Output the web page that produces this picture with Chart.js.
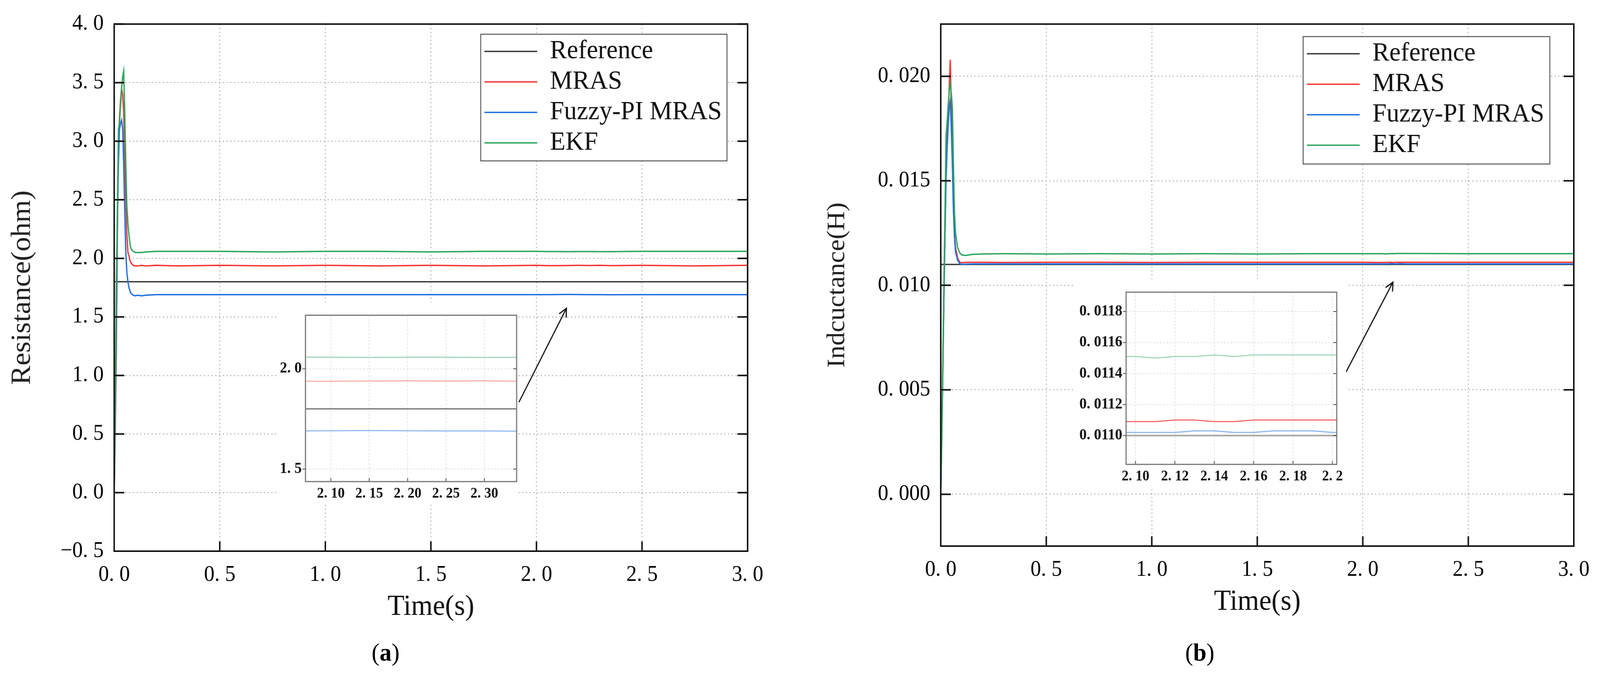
<!DOCTYPE html>
<html>
<head>
<meta charset="utf-8">
<script src="https://cdn.jsdelivr.net/npm/chart.js@4.4.1/dist/chart.umd.min.js"></script>
<style>
  html, body { margin: 0; padding: 0; background: #fff; overflow: hidden; }
  #page { position: relative; width: 4274px; height: 1737px; overflow: hidden; background: #fff; transform-origin: 0 0; }
  .box { position: absolute; }
  .panel { position: absolute; top: 1637px; width: 200px; margin-left: -100px; text-align: center;
           font-family: 'Liberation Serif', serif; font-size: 64px; line-height: 1; color: #000; }
</style>
</head>
<body>
<div id="page">
  <div class="box" style="left:0;top:0;width:2137px;height:1737px"><canvas id="resistance-chart"></canvas></div>
  <div class="box" style="left:2137px;top:0;width:2137px;height:1737px"><canvas id="inductance-chart"></canvas></div>
  <div class="box" style="left:743px;top:773px;width:640px;height:514px"><canvas id="resistance-zoom"></canvas></div>
  <div class="box" style="left:2873px;top:714px;width:723px;height:538px"><canvas id="inductance-zoom"></canvas></div>
  <div class="panel" style="left:1030px">(<b>a</b>)</div>
  <div class="panel" style="left:3205px">(<b>b</b>)</div>
</div>
<script>
// ---- (a) resistance estimation ----
const timeR = [0, 0.005, 0.01, 0.015, 0.02, 0.025, 0.03, 0.035, 0.04, 0.045,
               0.05, 0.055, 0.06, 0.065, 0.07, 0.075, 0.08, 0.09, 0.1, 0.11,
               0.13, 0.15, 0.2, 0.3, 0.5, 0.75, 1.0, 1.25, 1.5, 1.75,
               2.0, 2.05, 2.1, 2.15, 2.2, 2.25, 2.3, 2.35, 2.5, 2.75, 3.0];
const mrasR = [0, 0.5, 1.2, 2.2, 2.95, 3.2, 3.35, 3.45, 3.4, 3.25,
               2.85, 2.5, 2.2, 2.05, 2.02, 1.98, 1.96, 1.94, 1.935, 1.935,
               1.94, 1.935, 1.94, 1.935, 1.94, 1.935, 1.94, 1.935, 1.94, 1.935,
               1.94, 1.938, 1.938, 1.939, 1.94, 1.939, 1.94, 1.938, 1.94, 1.935, 1.94];
const fuzzyR = [0, 0.6, 1.4, 2.3, 2.8, 3.1, 3.15, 3.18, 3.1, 2.8,
                2.4, 2.05, 1.88, 1.8, 1.75, 1.72, 1.7, 1.685, 1.68, 1.685,
                1.68, 1.685, 1.69, 1.69, 1.69, 1.69, 1.69, 1.69, 1.69, 1.69,
                1.69, 1.69, 1.691, 1.692, 1.691, 1.69, 1.69, 1.689, 1.69, 1.69, 1.69];
const ekfR = [0, 0.8, 1.75, 2.4, 3.1, 3.15, 3.3, 3.45, 3.55, 3.6,
              3.25, 2.8, 2.45, 2.3, 2.2, 2.12, 2.08, 2.06, 2.05, 2.05,
              2.05, 2.055, 2.06, 2.06, 2.06, 2.055, 2.06, 2.06, 2.055, 2.06,
              2.06, 2.058, 2.058, 2.057, 2.058, 2.058, 2.057, 2.057, 2.06, 2.06, 2.06];
const refTimeR = [0, 3.0];
const refR = [1.8, 1.8];

// ---- (b) inductance estimation ----
const timeL = [0, 0.005, 0.01, 0.015, 0.02, 0.025, 0.03, 0.035, 0.04, 0.045,
               0.05, 0.055, 0.06, 0.065, 0.07, 0.08, 0.09, 0.1, 0.12, 0.15,
               0.2, 0.3, 0.5, 0.75, 1.0, 1.25, 1.5, 1.75, 2.0, 2.08,
               2.1, 2.11, 2.12, 2.13, 2.14, 2.15, 2.16, 2.17, 2.18, 2.19,
               2.2, 2.22, 2.5, 2.75, 3.0];
const mrasL = [0, 0.003, 0.0065, 0.0095, 0.0125, 0.0155, 0.017, 0.018, 0.0195, 0.0208,
               0.0185, 0.016, 0.0138, 0.0125, 0.0118, 0.0113, 0.0111, 0.01108, 0.0111, 0.0111,
               0.0111, 0.01109, 0.0111, 0.0111, 0.01109, 0.0111, 0.0111, 0.0111, 0.0111, 0.01109,
               0.01109, 0.01109, 0.0111, 0.0111, 0.01109, 0.01109, 0.0111, 0.0111, 0.0111, 0.0111,
               0.0111, 0.0111, 0.0111, 0.0111, 0.0111];
const fuzzyL = [0, 0.003, 0.006, 0.0095, 0.0125, 0.015, 0.0165, 0.0176, 0.0185, 0.0188,
                0.0175, 0.0158, 0.0136, 0.0123, 0.0116, 0.0112, 0.01103, 0.011, 0.01101, 0.01102,
                0.01102, 0.01102, 0.01102, 0.01102, 0.01102, 0.01102, 0.01102, 0.01102, 0.01102, 0.01102,
                0.01102, 0.01102, 0.01102, 0.01103, 0.01103, 0.01102, 0.01102, 0.01103, 0.01103, 0.01103,
                0.01102, 0.01102, 0.01102, 0.01102, 0.01102];
const ekfL = [0, 0.0025, 0.006, 0.01, 0.0135, 0.0172, 0.0178, 0.0186, 0.0193, 0.0197,
              0.0192, 0.0185, 0.0158, 0.0135, 0.0125, 0.0118, 0.01155, 0.01145, 0.01143, 0.01148,
              0.0115, 0.01151, 0.0115, 0.01151, 0.0115, 0.01151, 0.0115, 0.01151, 0.01151, 0.01151,
              0.01151, 0.0115, 0.01151, 0.01151, 0.01152, 0.01151, 0.01152, 0.01152, 0.01152, 0.01152,
              0.01152, 0.01152, 0.01151, 0.01151, 0.01151];
const refTimeL = [0, 3.0];
const refL = [0.011, 0.011];

// arrows pointing from the zoom boxes: [time, value]
const arrowFromR = [1.917, 0.772], arrowToR = [2.142, 1.574];
const arrowFromL = [1.920, 0.00584], arrowToL = [2.143, 0.01015];

// fit the 4274x1737 layout into whatever viewport we get
const page = document.getElementById('page');
page.style.transform = 'scale(' + (window.innerWidth / 4274) + ',' + (window.innerHeight / 1737) + ')';

Chart.defaults.font.family = "'Liberation Serif', 'DejaVu Serif', serif";
Chart.defaults.color = '#000';

const mainStyle = {
  ref: ['#3a3a3a', 3.5], mras: ['#f23333', 3.5], fuzzy: ['#1f6fe0', 3.5], ekf: ['#2aa65b', 3.5]
};
const zoomStyleR = {
  ref: ['#555555', 2.5], mras: ['rgba(242,51,51,0.45)', 2.5], fuzzy: ['rgba(31,111,224,0.55)', 2.5], ekf: ['rgba(42,166,91,0.5)', 2.5]
};
const zoomStyleL = {
  ref: ['#a6a6a6', 4], mras: ['rgba(242,51,51,0.85)', 2.5], fuzzy: ['rgba(31,111,224,0.5)', 3], ekf: ['rgba(42,166,91,0.5)', 2.5]
};

function toPoints(times, values) {
  const pts = [];
  for (let i = 0; i < times.length; i++) {
    pts.push({x: times[i], y: values[i]});
  }
  return pts;
}

function buildDatasets(refTime, ref, time, mras, fuzzy, ekf, style) {
  const sets = [
    {label: 'Reference', data: toPoints(refTime, ref), s: style.ref, order: 3},
    {label: 'MRAS', data: toPoints(time, mras), s: style.mras, order: 2},
    {label: 'Fuzzy-PI MRAS', data: toPoints(time, fuzzy), s: style.fuzzy, order: 1},
    {label: 'EKF', data: toPoints(time, ekf), s: style.ekf, order: 0}
  ];
  return sets.map(d => ({
    label: d.label, data: d.data, order: d.order,
    borderColor: d.s[0], backgroundColor: d.s[0], borderWidth: d.s[1],
    pointBorderColor: d.s[0], pointBorderWidth: d.s[1],
    pointRadius: 0, fill: false, tension: 0
  }));
}

// "0.5" -> "0. 5" like the original typesetting
function fmt(v, digits) {
  return (v < 0 ? '\u2212' : '') + Math.abs(v).toFixed(digits).replace('.', '. ');
}

// frame, inward ticks, zoom arrow and boxed legend
const plotDecor = {
  id: 'plotDecor',
  beforeDraw(chart, args, opts) {
    if (!opts.background) return;
    const ctx = chart.ctx;
    ctx.save();
    ctx.fillStyle = opts.background;
    ctx.fillRect(0, 0, chart.width, chart.height);
    ctx.restore();
  },
  afterLayout(chart, args, opts) {
    const box = opts.legendBox, legend = chart.legend;
    if (!box || !legend) return;
    const area = chart.chartArea;
    legend.left = area.right - box.right - box.width;
    legend.top = area.top + box.top;
    legend.width = box.width;
    legend.height = box.height;
    legend.right = legend.left + box.width;
    legend.bottom = legend.top + box.height;
  },
  afterDatasetsDraw(chart, args, opts) {
    const ctx = chart.ctx, area = chart.chartArea;
    const xs = chart.scales.x, ys = chart.scales.y;
    const t = opts.ticks;
    ctx.save();
    ctx.strokeStyle = opts.tickColor;
    ctx.lineWidth = opts.tickWidth;
    ctx.beginPath();
    ys.ticks.forEach(tick => {
      const y = ys.getPixelForValue(tick.value);
      ctx.moveTo(area.left, y); ctx.lineTo(area.left + t.left, y);
      ctx.moveTo(area.right, y); ctx.lineTo(area.right - t.right, y);
    });
    xs.ticks.forEach(tick => {
      const x = xs.getPixelForValue(tick.value);
      ctx.moveTo(x, area.bottom); ctx.lineTo(x, area.bottom - t.bottom);
    });
    ctx.stroke();
    ctx.strokeStyle = opts.frameColor;
    ctx.lineWidth = opts.frameWidth;
    ctx.strokeRect(area.left, area.top, area.right - area.left, area.bottom - area.top);

    if (opts.arrow) {
      const x1 = xs.getPixelForValue(opts.arrow.from[0]), y1 = ys.getPixelForValue(opts.arrow.from[1]);
      const x2 = xs.getPixelForValue(opts.arrow.to[0]), y2 = ys.getPixelForValue(opts.arrow.to[1]);
      const ang = Math.atan2(y2 - y1, x2 - x1);
      ctx.strokeStyle = '#111';
      ctx.lineWidth = 3;
      ctx.beginPath();
      ctx.moveTo(x1, y1); ctx.lineTo(x2, y2);
      ctx.moveTo(x2 - 24 * Math.cos(ang - 0.45), y2 - 24 * Math.sin(ang - 0.45));
      ctx.lineTo(x2, y2);
      ctx.lineTo(x2 - 24 * Math.cos(ang + 0.45), y2 - 24 * Math.sin(ang + 0.45));
      ctx.stroke();
    }

    if (opts.legendBox && chart.legend) {
      const lg = chart.legend;
      ctx.fillStyle = '#fff';
      ctx.fillRect(lg.left, lg.top, lg.width, lg.height);
      ctx.strokeStyle = '#555';
      ctx.lineWidth = 2.5;
      ctx.strokeRect(lg.left, lg.top, lg.width, lg.height);
      ctx.restore();
      ctx.save();
      lg.draw();
    }
    ctx.restore();
  }
};

function mainChart(id, cfg) {
  const ctx = document.getElementById(id).getContext('2d');
  const gridOpts = {color: '#999999', lineWidth: 2, drawTicks: false};
  const borderOpts = {display: false, dash: [3, 7]};
  return new Chart(ctx, {
    type: 'line',
    data: {datasets: cfg.datasets},
    plugins: [plotDecor],
    options: {
      responsive: true,
      maintainAspectRatio: false,
      devicePixelRatio: 1,
      animation: false,
      layout: {padding: cfg.padding},
      plugins: {
        legend: {
          position: 'chartArea',
          align: 'start',
          labels: {
            usePointStyle: true,
            pointStyle: 'line',
            pointStyleWidth: 141,
            padding: 10,
            color: '#111',
            font: {size: 68},
            sort: (a, b) => a.datasetIndex - b.datasetIndex
          }
        },
        tooltip: {enabled: false},
        plotDecor: {
          frameColor: '#111', frameWidth: 4, tickColor: '#111', tickWidth: 4,
          ticks: {left: 27, right: 27, bottom: 25},
          legendBox: cfg.legendBox,
          arrow: cfg.arrow
        }
      },
      scales: {
        x: {
          type: 'linear', min: 0, max: 3,
          afterFit: s => { s.height = cfg.xHeight; },
          ticks: {stepSize: 0.5, includeBounds: false, padding: 28, maxRotation: 0, autoSkip: false,
                  font: {size: 56}, color: '#000', callback: v => fmt(v, 1)},
          grid: gridOpts,
          border: borderOpts,
          title: {display: true, text: 'Time(s)', color: '#111', font: {size: 74},
                  padding: {top: 0, bottom: cfg.xTitlePad}}
        },
        y: {
          type: 'linear', min: cfg.yMin, max: cfg.yMax,
          afterFit: s => { s.width = cfg.yWidth; },
          ticks: {stepSize: cfg.yStep, includeBounds: false, padding: 28, autoSkip: false,
                  font: {size: 56}, color: '#000', callback: v => fmt(v, cfg.yDigits)},
          grid: gridOpts,
          border: borderOpts,
          title: {display: true, text: cfg.yTitle, color: '#222', font: {size: cfg.yTitleSize},
                  padding: {top: cfg.yTitlePad, bottom: 0}}
        }
      }
    }
  });
}

function zoomChart(id, cfg) {
  const ctx = document.getElementById(id).getContext('2d');
  const gridOpts = {color: '#d8d8d8', lineWidth: 1.5, drawTicks: false};
  const borderOpts = {display: false, dash: [5, 4]};
  return new Chart(ctx, {
    type: 'line',
    data: {datasets: cfg.datasets},
    plugins: [plotDecor],
    options: {
      responsive: true,
      maintainAspectRatio: false,
      devicePixelRatio: 1,
      animation: false,
      layout: {padding: cfg.padding},
      plugins: {
        legend: {display: false},
        tooltip: {enabled: false},
        plotDecor: {
          background: '#fff', frameColor: '#777', frameWidth: 3, tickColor: '#444', tickWidth: 2,
          ticks: {left: -8, right: 9, bottom: 9}
        }
      },
      scales: {
        x: {
          type: 'linear', min: cfg.xMin, max: cfg.xMax,
          afterFit: s => { s.height = cfg.xHeight; },
          ticks: {stepSize: cfg.xStep, includeBounds: false, padding: 9, maxRotation: 0, autoSkip: false,
                  font: {size: 37, weight: 'bold'}, color: '#111', callback: cfg.xLabel},
          grid: gridOpts,
          border: borderOpts
        },
        y: {
          type: 'linear', min: cfg.yMin, max: cfg.yMax,
          afterFit: s => { s.width = cfg.yWidth; },
          ticks: {stepSize: cfg.yStep, includeBounds: false, padding: 10, autoSkip: false,
                  font: {size: 39, weight: 'bold'}, color: '#111', callback: v => fmt(v, cfg.yDigits)},
          grid: gridOpts,
          border: borderOpts
        }
      }
    }
  });
}

mainChart('resistance-chart', {
  datasets: buildDatasets(refTimeR, refR, timeR, mrasR, fuzzyR, ekfR, mainStyle),
  padding: {top: 46, right: 140, left: 0, bottom: 0},
  xHeight: 327, xTitlePad: 139,
  yWidth: 305, yMin: -0.5, yMax: 4.0, yStep: 0.5, yDigits: 1,
  yTitle: 'Resistance(ohm)', yTitleSize: 74, yTitlePad: 16,
  legendBox: {right: 55, top: 26, width: 658, height: 324},
  arrow: {from: arrowFromR, to: arrowToR}
});

mainChart('inductance-chart', {
  datasets: buildDatasets(refTimeL, refL, timeL, mrasL, fuzzyL, ekfL, mainStyle),
  padding: {top: 32, right: 66, left: 0, bottom: 0},
  xHeight: 340, xTitlePad: 152,
  yWidth: 376, yMin: -0.00248, yMax: 0.0225, yStep: 0.005, yDigits: 3,
  yTitle: 'Indcuctance(H)', yTitleSize: 68, yTitlePad: 59,
  legendBox: {right: 64, top: 32, width: 659, height: 326},
  arrow: {from: arrowFromL, to: arrowToL}
});

zoomChart('resistance-zoom', {
  datasets: buildDatasets(refTimeR, refR, timeR, mrasR, fuzzyR, ekfR, zoomStyleR),
  padding: {top: 2, right: 3, left: 0, bottom: 0},
  xHeight: 55, xMin: 2.067, xMax: 2.342, xStep: 0.05,
  xLabel: v => fmt(v, 2),
  yWidth: 73, yMin: 1.4375, yMax: 2.267, yStep: 0.5, yDigits: 1
});

zoomChart('inductance-zoom', {
  datasets: buildDatasets(refTimeL, refL, timeL, mrasL, fuzzyL, ekfL, zoomStyleL),
  padding: {top: 2, right: 4, left: 0, bottom: 0},
  xHeight: 64, xMin: 2.0952, xMax: 2.2022, xStep: 0.02,
  xLabel: v => (Math.abs(v - 2.2) < 1e-9 ? fmt(2.2, 1) : fmt(v, 2)),
  yWidth: 135, yMin: 0.010814, yMax: 0.011925, yStep: 0.0002, yDigits: 4
});
</script>
</body>
</html>
